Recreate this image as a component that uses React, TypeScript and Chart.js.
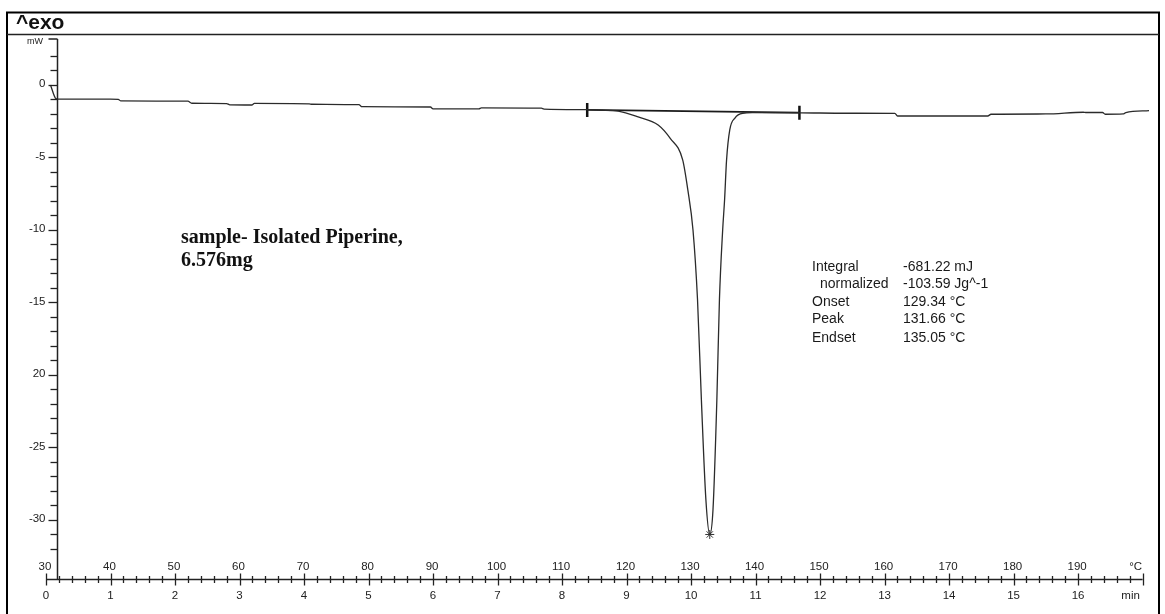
import { useEffect, useRef } from "react";
import { Chart, registerables } from "chart.js";

Chart.register(...registerables);

// DSC curve: time (min) vs heat flow (mW)
const TIME_MIN = [
  0.07, 0.145, 0.18, 1.0, 1.12, 1.16, 2.2, 2.26, 2.8, 2.85, 3.19, 3.23, 4.08, 4.12,
  4.85, 4.9, 5.96, 6.0, 6.71, 6.75, 7.68, 7.72, 8.36, 8.6, 8.87, 9.18, 9.49, 9.68,
  9.87, 9.95, 10.03, 10.1, 10.16, 10.23, 10.29, 10.34, 10.4, 10.44, 10.49, 10.52,
  10.55, 10.6, 10.68, 10.8, 10.95, 11.7, 12.4, 13.16, 13.2, 14.6, 14.65, 15.5, 16.08,
  16.12, 16.38, 16.42, 16.7, 16.74, 17.1,
];
const HEAT_FLOW_MW = [
  0.0, -0.9, -0.97, -0.98, -0.99, -1.1, -1.12, -1.26, -1.28, -1.37, -1.38, -1.27, -1.3, -1.33,
  -1.36, -1.5, -1.52, -1.65, -1.65, -1.58, -1.6, -1.66, -1.7, -1.74, -1.8, -2.2, -2.76, -3.7,
  -5.17, -7.24, -10.0, -14.8, -21.7, -28.6, -31.0, -29.3, -21.7, -14.8, -10.0, -7.9,
  -5.2, -3.1, -2.28, -1.95, -1.91, -1.92, -1.95, -1.96, -2.14, -2.14, -2.02, -2.0, -1.88,
  -1.9, -1.9, -2.02, -2.0, -1.9, -1.77,
];

// integration limits and peak
const LIMIT_T = [8.39, 11.68];
const LIMIT_MW = [-1.72, -1.91];
const PEAK_T = [10.29];
const PEAK_MW = [-31.0];

// axes
const TIME_TICKS = [0, 1, 2, 3, 4, 5, 6, 7, 8, 9, 10, 11, 12, 13, 14, 15, 16];
const TIME_LABELS = ["0", "1", "2", "3", "4", "5", "6", "7", "8", "9", "10", "11", "12", "13", "14", "15", "16"];
const TEMP_LABELS = ["30", "40", "50", "60", "70", "80", "90", "100", "110", "120", "130", "140", "150", "160", "170", "180", "190"];
const MW_TICKS = [0, -5, -10, -15, -20, -25, -30];
const MW_LABELS = ["0", "-5", "-10", "-15", "20", "-25", "-30"];

const RESULT_NAMES = ["Integral", "normalized", "Onset", "Peak", "Endset"];
const RESULT_VALUES = ["-681.22 mJ", "-103.59 Jg^-1", "129.34 °C", "131.66 °C", "135.05 °C"];
const SAMPLE_LINES = ["sample- Isolated Piperine,", "6.576mg"];

const SANS = '"Liberation Sans", Arial, sans-serif';
const SERIF = '"Liberation Serif", "Times New Roman", serif';

const decorPlugin = {
  id: "decor",
  afterDraw(chart: any) {
    const ctx: CanvasRenderingContext2D = chart.ctx;
    const xs = chart.scales.x;
    const ys = chart.scales.y;
    const area = chart.chartArea;
    const line = (x1: number, y1: number, x2: number, y2: number) => {
      ctx.beginPath();
      ctx.moveTo(x1, y1);
      ctx.lineTo(x2, y2);
      ctx.stroke();
    };
    ctx.save();
    // frame
    ctx.strokeStyle = "#000";
    ctx.lineWidth = 2;
    ctx.strokeRect(7, 12.5, 1152, 606);
    ctx.lineWidth = 1.5;
    ctx.strokeStyle = "#222";
    line(7, 34.5, 1159, 34.5);
    ctx.fillStyle = "#111";
    ctx.font = `bold 21px ${SANS}`;
    ctx.textAlign = "left";
    ctx.textBaseline = "alphabetic";
    ctx.fillText("^exo", 16, 29);

    // y axis
    const ax = Math.round(xs.getPixelForValue(0.176)) + 0.5;
    ctx.strokeStyle = "#222";
    ctx.lineWidth = 1.5;
    line(ax, area.top, ax, area.bottom);
    line(ax - 9, area.top, ax, area.top);
    ctx.lineWidth = 1.3;
    for (let v = 2; v >= -32; v--) {
      const y = Math.round(ys.getPixelForValue(v)) + 0.5;
      const major = MW_TICKS.indexOf(v) >= 0;
      line(ax - (major ? 9 : 7), y, ax, y);
    }
    ctx.fillStyle = "#222";
    ctx.font = `9px ${SANS}`;
    ctx.textAlign = "right";
    ctx.textBaseline = "middle";
    ctx.fillText("mW", 43, area.top + 3);
    ctx.font = `11.5px ${SANS}`;
    MW_TICKS.forEach((v, i) => {
      ctx.fillText(MW_LABELS[i], ax - 12, ys.getPixelForValue(v) - 1);
    });

    // x axis
    const by = Math.round(area.bottom) + 0.5;
    ctx.lineWidth = 1.5;
    line(xs.getPixelForValue(0), by, xs.getPixelForValue(17), by);
    ctx.lineWidth = 1.3;
    for (let i = 0; i <= 85; i++) {
      const x = Math.round(xs.getPixelForValue(i * 0.2)) + 0.5;
      const h = i % 5 === 0 ? 6 : 3.5;
      line(x, by - h, x, by + h);
    }
    ctx.font = `11.5px ${SANS}`;
    ctx.textAlign = "center";
    ctx.textBaseline = "middle";
    TIME_TICKS.forEach((t, i) => {
      const x = xs.getPixelForValue(t);
      ctx.fillText(TEMP_LABELS[i], x - 1, by - 13);
      ctx.fillText(TIME_LABELS[i], x, by + 16);
    });
    const xe = xs.getPixelForValue(17);
    ctx.fillText("°C", xe - 7, by - 13);
    ctx.fillText("min", xe - 12, by + 16);

    // sample annotation
    ctx.fillStyle = "#111";
    ctx.textAlign = "left";
    ctx.textBaseline = "alphabetic";
    ctx.font = `bold 20px ${SERIF}`;
    ctx.fillText(SAMPLE_LINES[0], 181, 243);
    ctx.fillText(SAMPLE_LINES[1], 181, 266);

    // results table
    ctx.font = `14px ${SANS}`;
    ctx.fillStyle = "#1a1a1a";
    const rows = [271, 288, 305.5, 323, 342];
    RESULT_NAMES.forEach((n, i) => {
      ctx.fillText(n, i === 1 ? 820 : 812, rows[i]);
      ctx.fillText(RESULT_VALUES[i], 903, rows[i]);
    });
    ctx.restore();
  },
};

export default function App() {
  const ref = useRef<HTMLCanvasElement | null>(null);
  useEffect(() => {
    if (!ref.current) return;
    const curve = TIME_MIN.map((t, i) => ({ x: t, y: HEAT_FLOW_MW[i] }));
    const limits = LIMIT_T.map((t, i) => ({ x: t, y: LIMIT_MW[i] }));
    const peak = PEAK_T.map((t, i) => ({ x: t, y: PEAK_MW[i] }));
    const chart = new Chart(ref.current, {
      type: "scatter",
      data: {
        datasets: [
          {
            label: "Heat flow",
            data: curve,
            showLine: true,
            borderColor: "#2b2b2b",
            borderWidth: 1.3,
            pointRadius: 0,
            cubicInterpolationMode: "monotone",
            clip: false,
          } as any,
          {
            label: "Baseline",
            data: limits,
            showLine: true,
            borderColor: "#1a1a1a",
            borderWidth: 1.6,
            pointRadius: 0,
          },
          {
            label: "Limits",
            data: limits,
            showLine: false,
            pointStyle: "line",
            rotation: 90,
            pointRadius: 7,
            borderColor: "#111",
            borderWidth: 2.5,
          },
          {
            label: "Peak",
            data: peak,
            showLine: false,
            pointStyle: "star",
            pointRadius: 4.5,
            borderColor: "#333",
            borderWidth: 1,
          },
        ],
      },
      options: {
        animation: false,
        responsive: false,
        devicePixelRatio: 1,
        layout: { padding: { left: 46, right: 5, top: 39, bottom: 35 } },
        plugins: { legend: { display: false }, tooltip: { enabled: false } },
        scales: {
          x: { type: "linear", min: 0, max: 17.2, display: false },
          y: { type: "linear", min: -34.07, max: 3.17, display: false },
        },
      },
      plugins: [decorPlugin],
    });
    return () => chart.destroy();
  }, []);
  return (
    <div style={{ position: "fixed", left: 0, top: 0, width: 1165, height: 614, background: "#fff" }}>
      <canvas ref={ref} width={1165} height={614} />
    </div>
  );
}
